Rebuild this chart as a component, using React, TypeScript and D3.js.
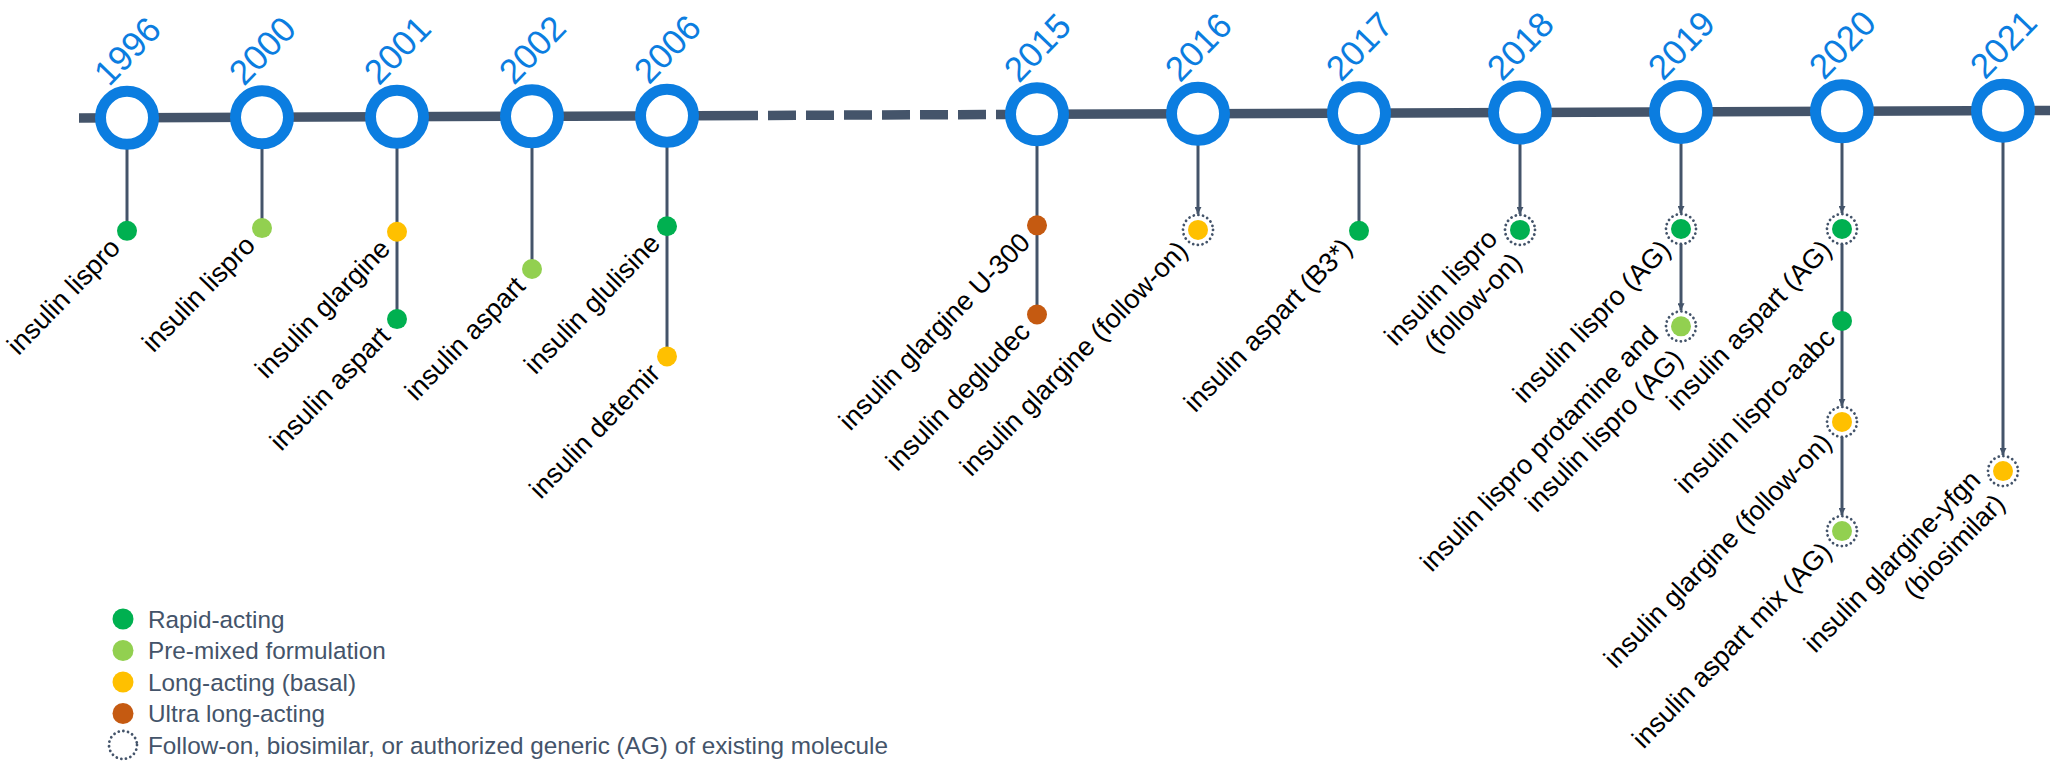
import React from 'react';
import * as d3 from 'd3';

// ---------- data ----------
const years = ['1996', '2000', '2001', '2002', '2006', '2015', '2016', '2017', '2018', '2019', '2020', '2021'];

// index into years for each approval
const drugYear = [0, 1, 2, 2, 3, 4, 4, 5, 5, 6, 7, 8, 9, 9, 10, 10, 10, 10, 11];
const drugNames: string[][] = [
  ['insulin lispro'],
  ['insulin lispro'],
  ['insulin glargine'],
  ['insulin aspart'],
  ['insulin aspart'],
  ['insulin glulisine'],
  ['insulin detemir'],
  ['insulin glargine U-300'],
  ['insulin degludec'],
  ['insulin glargine (follow-on)'],
  ['insulin aspart (B3*)'],
  ['insulin lispro', '(follow-on)'],
  ['insulin lispro (AG)'],
  ['insulin lispro protamine and', 'insulin lispro (AG)'],
  ['insulin aspart (AG)'],
  ['insulin lispro-aabc'],
  ['insulin glargine (follow-on)'],
  ['insulin aspart mix (AG)'],
  ['insulin glargine-yfgn', '(biosimilar)'],
];
const drugType = ['rapid', 'premixed', 'long', 'rapid', 'premixed', 'rapid', 'long', 'ultra', 'ultra', 'long', 'rapid', 'rapid', 'rapid', 'premixed', 'rapid', 'rapid', 'long', 'premixed', 'long'];
const drugFollowOn = [false, false, false, false, false, false, false, false, false, true, false, true, true, true, true, false, true, true, true];
// how far down the stem each approval sits (0 = first tier, 1 = second tier ...)
const drugDepth = [0.02, -0.01, 0.03, 0.99, 0.44, -0.03, 1.4, -0.04, 0.94, 0.01, 0.02, 0.01, 0, 1.07, 0, 1.01, 2.12, 3.32, 2.66];

const legendTypes = ['rapid', 'premixed', 'long', 'ultra', 'followon'];
const legendLabels = [
  'Rapid-acting',
  'Pre-mixed formulation',
  'Long-acting (basal)',
  'Ultra long-acting',
  'Follow-on, biosimilar, or authorized generic (AG) of existing molecule',
];

// ---------- styles ----------
const typeColor: Record<string, string> = {
  rapid: '#00B050',
  premixed: '#92D050',
  long: '#FFC000',
  ultra: '#C55A11',
};
const BLUE = '#0B7DE0';
const SLATE = '#44546A';
const FONT = '"Liberation Sans", Arial, sans-serif';

const W = 2060;
const H = 775;

export default function App() {
  const x = d3.scaleLinear().domain([0, 4, 5, 11]).range([127, 667, 1037, 2003]);
  const lineY = d3.scaleLinear().domain([0, W]).range([118.3, 110.5]);
  const depthY = d3.scaleLinear().domain([0, 1]).range([229, 320]);
  const legendY = d3.scaleLinear().domain([0, 4]).range([619, 745]);

  const DOT_R = 10;
  const RING_R = 15;
  const CIRCLE_R = 26.5;

  const drugs = drugYear.map((yi, i) => ({
    yi,
    names: drugNames[i],
    type: drugType[i],
    followOn: drugFollowOn[i],
    cx: x(yi),
    cy: depthY(drugDepth[i]),
  }));

  const byYear = d3.group(drugs, (d) => d.yi);

  // stem segments
  const segments: { x: number; y1: number; y2: number; arrow: boolean }[] = [];
  byYear.forEach((items, yi) => {
    const sorted = [...items].sort((a, b) => a.cy - b.cy);
    const cx = x(yi);
    let prev = lineY(cx);
    sorted.forEach((d) => {
      const end = d.followOn ? d.cy - RING_R - 1 : d.cy;
      segments.push({ x: cx, y1: prev, y2: end, arrow: d.followOn });
      prev = d.followOn ? d.cy + RING_R : d.cy;
    });
  });

  const lineStart = x(0) - 48;
  const lineEnd = x(11) + 47;
  const solidEnd = x(4) + 91;
  const dashStart = x(4) + 101;
  const dashEnd = x(5);

  return (
    <div style={{ position: 'absolute', left: 0, top: 0, width: W, height: H, background: '#fff' }}>
      <svg width={W} height={H} viewBox={`0 0 ${W} ${H}`} style={{ display: 'block', fontFamily: FONT }}>
        <defs>
          <marker id="arr" viewBox="0 0 10 10" refX="10" refY="5" markerWidth="7" markerHeight="7" markerUnits="userSpaceOnUse" orient="auto">
            <path d="M0,0 L10,5 L0,10 z" fill={SLATE} />
          </marker>
        </defs>

        {/* timeline */}
        <line x1={lineStart} y1={lineY(lineStart)} x2={solidEnd} y2={lineY(solidEnd)} stroke={SLATE} strokeWidth={9.5} />
        <line x1={dashStart} y1={lineY(dashStart)} x2={dashEnd} y2={lineY(dashEnd)} stroke={SLATE} strokeWidth={9.5} strokeDasharray="28 10" />
        <line x1={dashEnd} y1={lineY(dashEnd)} x2={lineEnd} y2={lineY(lineEnd)} stroke={SLATE} strokeWidth={9.5} />

        {/* stems */}
        {segments.map((s, i) => (
          <line key={'s' + i} x1={s.x} y1={s.y1} x2={s.x} y2={s.y2} stroke={SLATE} strokeWidth={3} markerEnd={s.arrow ? 'url(#arr)' : undefined} />
        ))}

        {/* year circles and labels */}
        {years.map((yr, i) => {
          const cx = x(i);
          const cy = lineY(cx);
          return (
            <g key={yr}>
              <circle cx={cx} cy={cy} r={CIRCLE_R} fill="#fff" stroke={BLUE} strokeWidth={11} />
              <text
                transform={`translate(${cx},${cy - 67}) rotate(-46)`}
                textAnchor="middle"
                dominantBaseline="central"
                fontSize={35}
                fill={BLUE}
              >
                {yr}
              </text>
            </g>
          );
        })}

        {/* approvals */}
        {drugs.map((d, i) => (
          <g key={'d' + i}>
            {d.followOn && (
              <circle cx={d.cx} cy={d.cy} r={RING_R} fill="#fff" stroke={SLATE} strokeWidth={2.8} strokeDasharray="0.01 4.7" strokeLinecap="round" />
            )}
            <circle cx={d.cx} cy={d.cy} r={DOT_R} fill={typeColor[d.type]} />
            <g transform={`translate(${d.cx},${d.cy}) rotate(-46)`}>
              {d.names.map((line, li) => (
                <text
                  key={li}
                  x={d.followOn ? -22 : -17}
                  y={(li - (d.names.length - 1) / 2) * 34}
                  textAnchor="end"
                  dominantBaseline="central"
                  fontSize={27}
                  fill="#000"
                >
                  {line}
                </text>
              ))}
            </g>
          </g>
        ))}

        {/* legend */}
        {legendTypes.map((t, i) => (
          <g key={'l' + t}>
            {t === 'followon' ? (
              <circle cx={123} cy={legendY(i)} r={14} fill="none" stroke={SLATE} strokeWidth={2.8} strokeDasharray="0.01 4.7" strokeLinecap="round" />
            ) : (
              <circle cx={123} cy={legendY(i)} r={10.5} fill={typeColor[t]} />
            )}
            <text x={148} y={legendY(i)} dominantBaseline="central" fontSize={24.3} fill={SLATE}>
              {legendLabels[i]}
            </text>
          </g>
        ))}
      </svg>
    </div>
  );
}
